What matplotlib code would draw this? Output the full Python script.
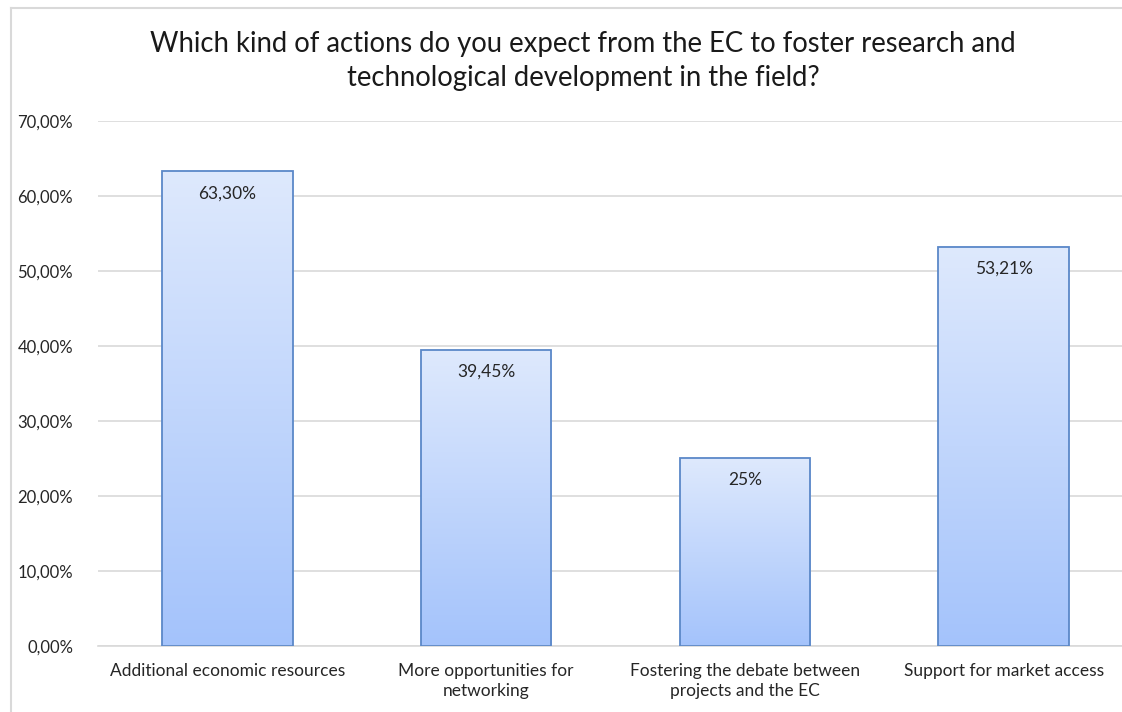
import matplotlib.pyplot as plt
import numpy as np
from matplotlib.lines import Line2D
from matplotlib.ticker import FuncFormatter

categorias = ['Additional economic resources', 'More opportunities for\nnetworking',
              'Fostering the debate between\nprojects and the EC', 'Support for market access']
valores = [63.30, 39.45, 25.0, 53.21]
rotulos = ['63,30%', '39,45%', '25%', '53,21%']

titulo = ('Which kind of actions do you expect from the EC to foster research and\n'
          'technological development in the field?')

plt.rcParams['font.family'] = ['Lato', 'DejaVu Sans']
cor_texto = '#262626'

fig = plt.figure(figsize=(11.22, 7.12), dpi=100)
ax = fig.add_axes([98 / 1122, 66 / 712, 1035 / 1122, 525 / 712])

x = np.arange(len(valores))
largura = 0.505

# gradiente vertical de cada barra (claro no topo, mais escuro na base)
topo = np.array([0xde, 0xe9, 0xfd]) / 255
base = np.array([0xa4, 0xc3, 0xfb]) / 255
t = np.linspace(0, 1, 256)[:, None]
grad = (base * (1 - t) + topo * t)[:, None, :]

barras = ax.bar(x, valores, width=largura, color='none', edgecolor='#5b88c8',
                linewidth=1.3, zorder=3)
for b in barras:
    x0, w, h = b.get_x(), b.get_width(), b.get_height()
    ax.imshow(grad, extent=[x0, x0 + w, 0, h], origin='lower', aspect='auto', zorder=2)

for xi, v, r in zip(x, valores, rotulos):
    ax.annotate(r, (xi, v), xytext=(0, -10), textcoords='offset points',
                ha='center', va='top', fontsize=12.5, color=cor_texto, zorder=4)

ax.set_xlim(-0.5, len(valores) - 0.5)
ax.set_ylim(0, 70)
ax.set_yticks(np.arange(0, 71, 10))
ax.yaxis.set_major_formatter(FuncFormatter(lambda v, p: f'{v:.2f}%'.replace('.', ',')))
ax.set_xticks(x)
ax.set_xticklabels(categorias, fontsize=12.5, color=cor_texto, linespacing=1.35)
ax.tick_params(axis='y', labelsize=12, labelcolor=cor_texto, length=0, pad=18)
ax.tick_params(axis='x', length=0, pad=12)
ax.grid(axis='y', color='#d9d9d9', linewidth=1.2, zorder=0)
ax.set_axisbelow(True)
for s in ['top', 'right', 'left']:
    ax.spines[s].set_visible(False)
ax.spines['bottom'].set_color('#d9d9d9')
ax.spines['bottom'].set_linewidth(1.2)

fig.text(583 / 1122, 1 - 61 / 712, titulo, ha='center', va='center', fontsize=19.8,
         color='#1a1a1a', linespacing=1.4)

# moldura do gráfico
fig.add_artist(Line2D([11 / 1122, 11 / 1122], [0, 1 - 8 / 712], color='#d9d9d9', lw=1.5))
fig.add_artist(Line2D([11 / 1122, 1], [1 - 8 / 712, 1 - 8 / 712], color='#d9d9d9', lw=1.5))

fig.savefig('out.png', dpi=100)
